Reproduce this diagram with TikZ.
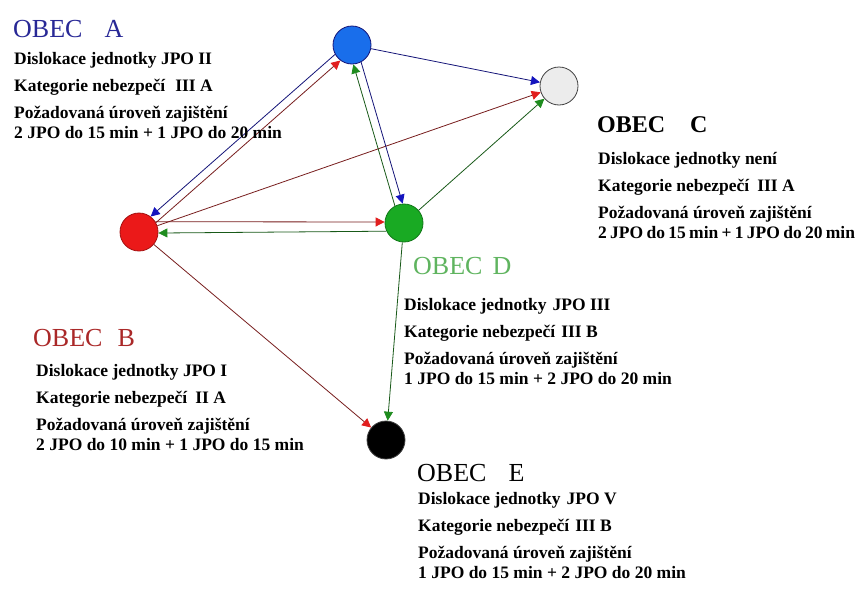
\documentclass[tikz,border=0pt]{standalone}
\usepackage{fontspec}
\setmainfont{Liberation Serif}
\usetikzlibrary{arrows.meta,calc}

\definecolor{circA}{RGB}{25,110,235}
\definecolor{circB}{RGB}{235,25,25}
\definecolor{circC}{RGB}{236,236,236}
\definecolor{circD}{RGB}{25,170,35}
\definecolor{hdrA}{RGB}{40,40,150}
\definecolor{hdrB}{RGB}{170,40,40}
\definecolor{hdrD}{RGB}{95,180,95}
\definecolor{lnred}{RGB}{120,30,30}
\definecolor{lnblue}{RGB}{20,20,120}
\definecolor{lngreen}{RGB}{25,90,25}
\definecolor{tipred}{RGB}{225,30,30}
\definecolor{tipblue}{RGB}{20,20,190}
\definecolor{tipgreen}{RGB}{30,140,30}

\begin{document}
\begin{tikzpicture}[x=1pt,y=-1pt]

  \tikzstyle{obec}=[circle, draw=black!75, line width=0.8pt, minimum size=38pt, inner sep=0pt]
  \tikzstyle{head}=[anchor=base west, inner sep=0pt, font=\fontsize{26}{26}\selectfont]
  % base of a multi-line node = baseline of its last line
  \tikzstyle{info}=[anchor=base west, inner sep=0pt, align=left, font=\fontsize{17.5}{27}\selectfont\bfseries]
  \tikzstyle{dep}=[line width=0.8pt]
  \tikzstyle{tored}=[dep, draw=lnred, -{Triangle[length=9pt,width=9pt,color=tipred]}]
  \tikzstyle{toblue}=[dep, draw=lnblue, -{Triangle[length=9pt,width=9pt,color=tipblue]}]
  \tikzstyle{togreen}=[dep, draw=lngreen, -{Triangle[length=9pt,width=9pt,color=tipgreen]}]
  \def\gap{\hspace{22pt}}

  \useasboundingbox [fill=white] (0,0) rectangle (864,592);

  % obce
  \node [obec, fill=circA, draw=lnblue] (A) at (352,45) {};
  \node [obec, fill=circB, draw=circB!70!black] (B) at (139,232) {};
  \node [obec, fill=circC] (C) at (559,86) {};
  \node [obec, fill=circD, draw=circD!70!black] (D) at (404,223) {};
  \node [obec, fill=black] (E) at (386,440) {};

  % vyjezdy
  \draw [toblue] (A.209) -- (B.53);
  \draw [tored] (B.29) -- (A.233);
  \draw [toblue] (A.-11) -- (C.169);
  \draw [tored] (B.19) -- (C.199);
  \draw [togreen] (D.41) -- (C.221);
  \draw [toblue] (A.-62) -- (D.94);
  \draw [togreen] (D.118) -- (A.274);
  \draw [tored] (B.32) -- (D.177);
  \draw [togreen] (D.205) -- (B.357);
  \draw [tored] (B.-40) -- (E.140);
  \draw [togreen] (D.-95) -- (E.85);

  % popisky
  \node [head, text=hdrA] (hA) at (13,37) {OBEC\gap A};
  \node [info] (iA) at (14,138) {Dislokace jednotky JPO II\\
    Kategorie nebezpečí\hspace{10pt}III A\\
    Požadovaná úroveň zajištění\\[-7pt]
    2 JPO do 15 min + 1 JPO do 20 min};

  \node [head, text=hdrB] (hB) at (33,346) {OBEC\hspace{15pt}B};
  \node [info] (iB) at (36,450) {Dislokace jednotky JPO I\\
    Kategorie nebezpečí\hspace{8pt}II A\\
    Požadovaná úroveň zajištění\\[-7pt]
    2 JPO do 10 min + 1 JPO do 15 min};

  \node [head, font=\fontsize{24}{24}\selectfont\bfseries] (hC) at (597,132) {OBEC\hspace{25pt}C};
  \node [info] (iC) at (598,238) {Dislokace jednotky není\\
    Kategorie nebezpečí\hspace{8pt}III A\\
    Požadovaná úroveň zajištění\\[-7pt]
    {\spaceskip=3.3pt 2 JPO do 15 min + 1 JPO do 20 min}};

  \node [head, text=hdrD] (hD) at (413,274) {OBEC\hspace{10pt}D};
  \node [info] (iD) at (404,384) {Dislokace jednotky\hspace{6pt}JPO III\\
    Kategorie nebezpečí\hspace{6pt}III B\\
    Požadovaná úroveň zajištění\\[-7pt]
    1 JPO do 15 min + 2 JPO do 20 min};

  \node [head] (hE) at (417,481) {OBEC\gap E};
  \node [info] (iE) at (418,578) {Dislokace jednotky\hspace{6pt}JPO V\\
    Kategorie nebezpečí\hspace{6pt}III B\\
    Požadovaná úroveň zajištění\\[-7pt]
    1 JPO do 15 min + 2 JPO do 20 min};

\end{tikzpicture}
\end{document}
